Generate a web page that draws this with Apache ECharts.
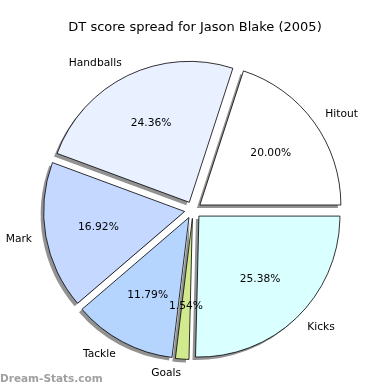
<!DOCTYPE html>
<html>
<head>
<meta charset="utf-8">
<script src="https://cdn.jsdelivr.net/npm/echarts@6/dist/echarts.min.js"></script>
<style>html,body{margin:0;padding:0;background:#fff}#c{width:390px;height:390px}</style>
</head>
<body>
<div id="c"></div>
<script>
const categories = ["Hitout", "Handballs", "Mark", "Tackle", "Goals", "Kicks"];
const values = [78, 95, 66, 46, 6, 99];
const colors = ["#ffffff", "#e9f0ff", "#c5d8ff", "#b5d5ff", "#d1ea8e", "#d9ffff"];

const FONT = "DejaVu Sans";
const R = 141;
const CX = 193, CY = 210;
const OFF = 8.5;
const total = values.reduce((a, b) => a + b, 0);

const chart = echarts.init(document.getElementById('c'), null, {renderer: 'canvas'});

const mk = (extra) => categories.map((n, i) => Object.assign({name: n, value: values[i], selected: true}, extra ? extra(i) : {}));

const common = {
  type: 'pie',
  startAngle: 0,
  clockwise: false,
  selectedMode: 'multiple',
  selectedOffset: OFF,
  avoidLabelOverlap: false,
  labelLayout: {hideOverlap: false},
  emphasis: {disabled: true}
};

chart.setOption({
  animation: false,
  backgroundColor: '#ffffff',
  title: {
    text: 'DT score spread for Jason Blake (2005)',
    left: 'center', top: 16,
    textStyle: {fontFamily: FONT, fontSize: 13, fontWeight: 'normal', color: '#000'}
  },
  graphic: [{
    type: 'text', left: 0, top: 374,
    style: {text: 'Dream-Stats.com', fill: '#a0a0a0', font: 'bold 10.5px "DejaVu Sans"'}
  }],
  series: [Object.assign({}, common, {
    // shadow layer
    center: [CX - 3, CY + 3],
    radius: [0, R],
    silent: true,
    z: 1,
    itemStyle: {color: '#929292', borderWidth: 0},
    label: {show: false},
    labelLine: {show: false},
    data: mk()
  }), Object.assign({}, common, {
    center: [CX, CY],
    radius: [0, R],
    z: 2,
    itemStyle: {borderColor: '#000', borderWidth: 0.8},
    label: {
      show: true, position: 'outside',
      fontFamily: FONT, fontSize: 10.7, color: '#000',
      distanceToLabelLine: 0,
      formatter: '{b}'
    },
    labelLine: {show: false, length: 14, length2: 0},
    data: mk(i => ({itemStyle: {color: colors[i]}}))
  }), Object.assign({}, common, {
    center: [CX, CY],
    radius: [0, R * 1.2],
    silent: true,
    z: 3,
    itemStyle: {color: 'rgba(0,0,0,0)', borderWidth: 0},
    label: {
      show: true, position: 'inside',
      fontFamily: FONT, fontSize: 10.7, color: '#000',
      formatter: p => (p.value / total * 100).toFixed(2) + '%'
    },
    labelLine: {show: false},
    data: mk()
  })]
});
</script>
</body>
</html>
